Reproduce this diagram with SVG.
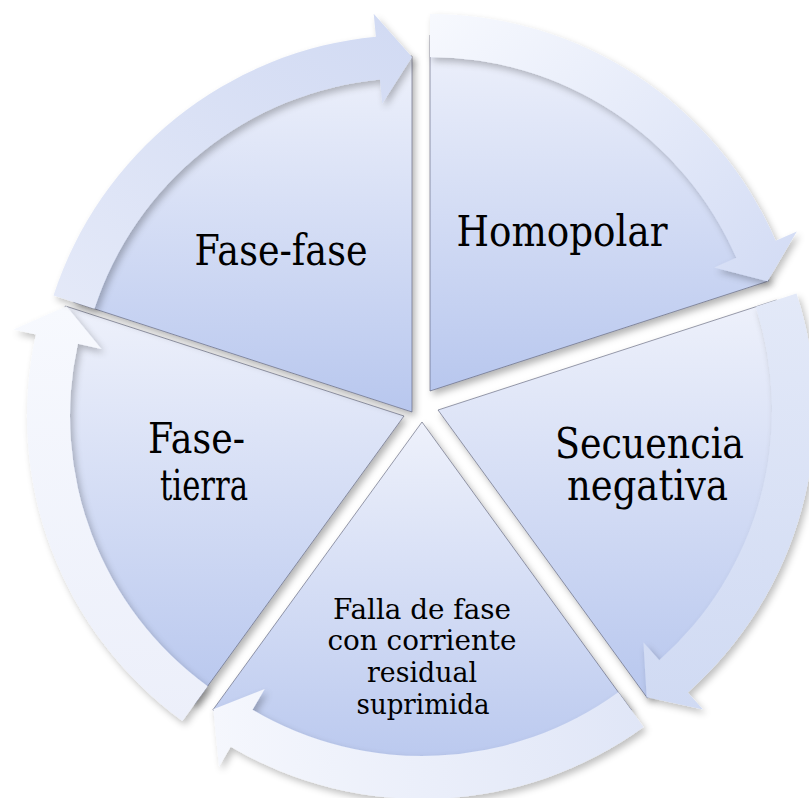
<svg xmlns="http://www.w3.org/2000/svg" width="809" height="798" viewBox="0 0 809 798">
<defs>
<style>
.lbl{font-family:"DejaVu Serif","Liberation Serif",serif;fill:#000;text-anchor:middle}
.big{font-size:42px}
.sm{font-size:28px}
.slice{stroke:#4a4f66;stroke-opacity:0.55;stroke-width:1;filter:url(#sh)}
.arrow{filter:url(#sh2)}
</style>
<linearGradient id="gs" x1="0" y1="0" x2="0" y2="1">
<stop offset="0" stop-color="#eef1fb"/>
<stop offset="1" stop-color="#b8c7ee"/>
</linearGradient>
<linearGradient id="ga1" x1="0" y1="0" x2="1" y2="1">
<stop offset="0" stop-color="#f7f9fe"/>
<stop offset="1" stop-color="#d2dbf4"/>
</linearGradient>
<linearGradient id="ga2" x1="0" y1="0" x2="0" y2="1">
<stop offset="0" stop-color="#e3e9f8"/>
<stop offset="1" stop-color="#d0daf3"/>
</linearGradient>
<linearGradient id="ga3" x1="0" y1="0" x2="1" y2="0">
<stop offset="0" stop-color="#f5f7fd"/>
<stop offset="1" stop-color="#e0e6f7"/>
</linearGradient>
<linearGradient id="ga4" x1="0" y1="0" x2="0" y2="1">
<stop offset="0" stop-color="#f7f9fe"/>
<stop offset="1" stop-color="#eceffa"/>
</linearGradient>
<linearGradient id="ga5" x1="0" y1="1" x2="1" y2="0">
<stop offset="0" stop-color="#e4e9f8"/>
<stop offset="1" stop-color="#d1daf3"/>
</linearGradient>
<filter id="sh" x="-10%" y="-10%" width="125%" height="125%">
<feGaussianBlur in="SourceAlpha" stdDeviation="3.5"/>
<feOffset dx="3" dy="4" result="o"/>
<feFlood flood-color="#000" flood-opacity="0.3"/>
<feComposite in2="o" operator="in" result="s"/>
<feMerge><feMergeNode in="s"/><feMergeNode in="SourceGraphic"/></feMerge>
</filter>
<filter id="sh2" x="-10%" y="-10%" width="125%" height="125%">
<feGaussianBlur in="SourceAlpha" stdDeviation="3.5"/>
<feOffset dx="3" dy="4" result="o"/>
<feFlood flood-color="#000" flood-opacity="0.25"/>
<feComposite in2="o" operator="in" result="s"/>
<feMerge><feMergeNode in="s"/><feMergeNode in="SourceGraphic"/></feMerge>
</filter>
</defs>
<rect width="809" height="798" fill="#fff"/>

<g id="node-homopolar">
<path class="slice" fill="url(#gs)" d="M430,391 L430,35 A356,356 0 0 1 768.6,281 Z"/>
<text class="lbl big" x="562" y="246" textLength="211" lengthAdjust="spacingAndGlyphs">Homopolar</text>
</g>
<g id="node-secuencia">
<path class="slice" fill="url(#gs)" d="M438,410 L776.6,300 A356,356 0 0 1 647.3,698 Z"/>
<text class="lbl big" x="649.5" y="458" textLength="189" lengthAdjust="spacingAndGlyphs">Secuencia</text>
<text class="lbl big" x="647.5" y="500" textLength="161" lengthAdjust="spacingAndGlyphs">negativa</text>
</g>
<g id="node-falla">
<path class="slice" fill="url(#gs)" d="M422,422 L631.3,710 A356,356 0 0 1 212.8,710 Z"/>
<text class="lbl sm" x="422" y="619" textLength="178" lengthAdjust="spacingAndGlyphs">Falla de fase</text>
<text class="lbl sm" x="422" y="650" textLength="189" lengthAdjust="spacingAndGlyphs">con corriente</text>
<text class="lbl sm" x="422" y="682" textLength="110" lengthAdjust="spacingAndGlyphs">residual</text>
<text class="lbl sm" x="423" y="714" textLength="133" lengthAdjust="spacingAndGlyphs">suprimida</text>
</g>
<g id="node-fasetierra">
<path class="slice" fill="url(#gs)" d="M404,416 L194.7,704 A356,356 0 0 1 65.4,306 Z"/>
<text class="lbl big" x="196.5" y="453" textLength="97" lengthAdjust="spacingAndGlyphs">Fase-</text>
<text class="lbl big" x="204" y="500" textLength="88" lengthAdjust="spacingAndGlyphs">tierra</text>
</g>
<g id="node-fasefase">
<path class="slice" fill="url(#gs)" d="M412,412 L73.4,302 A356,356 0 0 1 412,56 Z"/>
<text class="lbl big" x="281" y="265" textLength="173" lengthAdjust="spacingAndGlyphs">Fase-fase</text>
</g>

<g id="connectors">
<path class="arrow" fill="url(#ga1)" d="M430,14 A377,377 0 0 1 775.7,240.7 L796.8,231.5 L767.6,281.3 L714.3,267.4 L736.3,257.8 A334,334 0 0 0 430,57 Z"/>
<path class="arrow" fill="url(#ga2)" d="M796.5,293.5 A377,377 0 0 1 687.8,692.4 L703,709.6 L646.7,697.2 L643.4,642.2 L659.3,660.2 A334,334 0 0 0 755.7,306.8 Z"/>
<path class="arrow" fill="url(#ga3)" d="M643.6,727 A377,377 0 0 1 230.7,746.8 L219,766.7 L213.3,709.2 L264.7,689.1 L252.5,709.8 A334,334 0 0 0 618.3,692.2 Z"/>
<path class="arrow" fill="url(#ga4)" d="M182.4,721 A377,377 0 0 1 35.9,334.4 L13.5,329.4 L66.4,306.3 L101.4,348.9 L77.9,343.7 A334,334 0 0 0 207.7,686.2 Z"/>
<path class="arrow" fill="url(#ga5)" d="M53.5,295.5 A377,377 0 0 1 375.9,36.7 L373.7,13.8 L412,57 L382.3,103.4 L380,79.5 A334,334 0 0 0 94.4,308.8 Z"/>
</g>
</svg>
